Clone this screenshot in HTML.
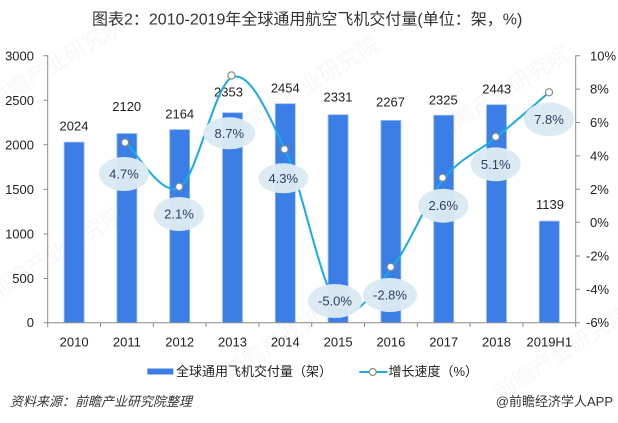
<!DOCTYPE html>
<html><head><meta charset="utf-8"><style>
html,body{margin:0;padding:0;background:#fff;}
svg{display:block;font-family:"Liberation Sans","Noto Sans CJK SC",sans-serif;}
</style></head><body>
<svg width="618" height="423" viewBox="0 0 618 423" xmlns="http://www.w3.org/2000/svg">
<rect width="618" height="423" fill="#fff"/>
<!-- watermarks -->
<g fill="#000" opacity="0.035" font-size="22">
<text x="-5" y="300" transform="rotate(-32 -5 300)">前瞻产业研究院</text>
<text x="-5" y="110" transform="rotate(-32 -5 110)">前瞻产业研究院</text>
<text x="250" y="130" transform="rotate(-32 250 130)">前瞻产业研究院</text>
<text x="440" y="140" transform="rotate(-32 440 140)">前瞻产业研究院</text>
<text x="230" y="380" transform="rotate(-32 230 380)">前瞻产业研究院</text>
<text x="500" y="400" transform="rotate(-32 500 400)">前瞻产业研究院</text>
</g>
<!-- title -->
<text x="92" y="20" font-size="16" fill="#333" dominant-baseline="central">图表2：2010-2019年全球通用航空飞机交付量(单位：架，%)</text>
<!-- bars -->
<g fill="#3b7fe6" stroke="#9cbdf2" stroke-width="0.8">
<rect x="64.1" y="142.1" width="20" height="180.6"/>
<rect x="116.9" y="133.5" width="20" height="189.2"/>
<rect x="169.7" y="129.6" width="20" height="193.1"/>
<rect x="222.5" y="112.7" width="20" height="210.0"/>
<rect x="275.3" y="103.7" width="20" height="219.0"/>
<rect x="328.1" y="114.7" width="20" height="208.0"/>
<rect x="380.9" y="120.4" width="20" height="202.3"/>
<rect x="433.7" y="115.2" width="20" height="207.5"/>
<rect x="486.5" y="104.7" width="20" height="218.0"/>
<rect x="539.3" y="221.1" width="20" height="101.6"/>
</g>
<!-- axes -->
<g stroke="#8a8a8a" stroke-width="1" fill="none">
<line x1="47.7" y1="55.3" x2="47.7" y2="322.7"/>
<line x1="575.7" y1="55.3" x2="575.7" y2="322.7"/>
<line x1="47.7" y1="322.7" x2="575.7" y2="322.7"/>
<path d="M43.5 55.7H47.7M43.5 100.3H47.7M43.5 144.8H47.7M43.5 189.4H47.7M43.5 234H47.7M43.5 278.5H47.7M43.5 322.7H47.7"/>
<path d="M575.7 55.7H580M575.7 89.1H580M575.7 122.5H580M575.7 155.9H580M575.7 189.3H580M575.7 222.3H580M575.7 256H580M575.7 289.3H580M575.7 322.7H580"/>
<path d="M47.7 322.7V327M100.5 322.7V327M153.3 322.7V327M206.1 322.7V327M258.9 322.7V327M311.7 322.7V327M364.5 322.7V327M417.3 322.7V327M470.1 322.7V327M522.9 322.7V327M575.7 322.7V327"/>
</g>
<!-- left tick labels -->
<g font-size="13" fill="#222" text-anchor="end" dominant-baseline="central">
<text x="34" y="56">3000</text>
<text x="34" y="100.3">2500</text>
<text x="34" y="144.8">2000</text>
<text x="34" y="189.4">1500</text>
<text x="34" y="234">1000</text>
<text x="34" y="278.5">500</text>
<text x="34" y="322.7">0</text>
</g>
<!-- right tick labels -->
<g font-size="13" fill="#222" dominant-baseline="central">
<text x="590" y="56">10%</text>
<text x="590" y="89.1">8%</text>
<text x="590" y="122.5">6%</text>
<text x="590" y="155.9">4%</text>
<text x="590" y="189.3">2%</text>
<text x="590" y="222.3">0%</text>
<text x="586" y="256">-2%</text>
<text x="586" y="289.3">-4%</text>
<text x="586" y="322.7">-6%</text>
</g>
<!-- category labels -->
<g font-size="13" fill="#222" text-anchor="middle" dominant-baseline="central">
<text x="74.1" y="342">2010</text>
<text x="126.9" y="342">2011</text>
<text x="179.7" y="342">2012</text>
<text x="232.5" y="342">2013</text>
<text x="285.3" y="342">2014</text>
<text x="338.1" y="342">2015</text>
<text x="390.9" y="342">2016</text>
<text x="443.7" y="342">2017</text>
<text x="496.5" y="342">2018</text>
<text x="549.3" y="342">2019H1</text>
</g>
<!-- bar value labels -->
<g font-size="13" fill="#222" text-anchor="middle" dominant-baseline="central">
<text x="74" y="126">2024</text>
<text x="126.7" y="106.7">2120</text>
<text x="179.7" y="114">2164</text>
<text x="228.5" y="92">2353</text>
<text x="285.3" y="88">2454</text>
<text x="338" y="97">2331</text>
<text x="390.5" y="102">2267</text>
<text x="443.3" y="100">2325</text>
<text x="496.7" y="89">2443</text>
<text x="550" y="204.3">1139</text>
</g>
<!-- line -->
<path d="M126.9 143.9 C135.7 151.1 162.1 198.4 179.7 187.3 C197.3 176.2 214.9 83.2 232.5 77.1 C250.1 71 267.7 112.4 285.3 150.5 C302.9 188.6 320.5 286.05 338.1 305.8 C355.7 325.55 373.3 290.15 390.9 269 C408.5 247.85 426.1 200.87 443.7 178.9 C461.3 156.93 478.9 151.67 496.5 137.2 C514.1 122.73 540.5 99.62 549.3 92.1" fill="none" stroke="#16ace6" stroke-width="2"/>
<g fill="#fff" stroke="#8a8a8a" stroke-width="1.2">
<circle cx="125" cy="142.5" r="3.6"/>
<circle cx="179.2" cy="186.8" r="3.6"/>
<circle cx="231.5" cy="75.5" r="3.6"/>
<circle cx="284.5" cy="149.2" r="3.6"/>
<circle cx="338.1" cy="305.8" r="3.6"/>
<circle cx="390.7" cy="267" r="3.6"/>
<circle cx="442.5" cy="177.8" r="3.6"/>
<circle cx="495.7" cy="136.7" r="3.6"/>
<circle cx="549" cy="92.3" r="3.6"/>
</g>
<!-- growth labels -->
<g fill="#dbeaf3" opacity="0.97">
<ellipse cx="124" cy="174" rx="25" ry="17"/>
<ellipse cx="179" cy="214" rx="25" ry="17"/>
<ellipse cx="229.3" cy="133.3" rx="26" ry="16"/>
<ellipse cx="283.3" cy="178.3" rx="25" ry="15"/>
<ellipse cx="335" cy="301" rx="27" ry="17"/>
<ellipse cx="390" cy="295" rx="27" ry="17"/>
<ellipse cx="443.3" cy="205.7" rx="25" ry="17"/>
<ellipse cx="495.7" cy="164.3" rx="25" ry="17"/>
<ellipse cx="549" cy="119.3" rx="25" ry="17"/>
</g>
<g font-size="13" fill="#2d3f63" text-anchor="middle" dominant-baseline="central">
<text x="124" y="174">4.7%</text>
<text x="179" y="214">2.1%</text>
<text x="229.3" y="133.3">8.7%</text>
<text x="283.3" y="178.3">4.3%</text>
<text x="335" y="301">-5.0%</text>
<text x="390" y="295">-2.8%</text>
<text x="443.3" y="205.7">2.6%</text>
<text x="495.7" y="164.3">5.1%</text>
<text x="549" y="119.3">7.8%</text>
</g>
<!-- legend -->
<rect x="147.3" y="368.5" width="26" height="6" fill="#3b7fe6"/>
<text x="176" y="371.7" font-size="13" fill="#222" dominant-baseline="central">全球通用飞机交付量（架）</text>
<line x1="359.3" y1="372" x2="387.3" y2="372" stroke="#16ace6" stroke-width="2"/>
<circle cx="372.7" cy="372" r="3.5" fill="#fff" stroke="#8a8a8a" stroke-width="1.2"/>
<text x="388.5" y="371.7" font-size="13" fill="#222" dominant-baseline="central">增长速度（%）</text>
<!-- footer -->
<text x="10" y="401.7" font-size="13" fill="#333" font-style="italic" dominant-baseline="central">资料来源：前瞻产业研究院整理</text>
<text x="613" y="401.7" font-size="13" fill="#333" text-anchor="end" dominant-baseline="central">@前瞻经济学人APP</text>
</svg>
</body></html>
